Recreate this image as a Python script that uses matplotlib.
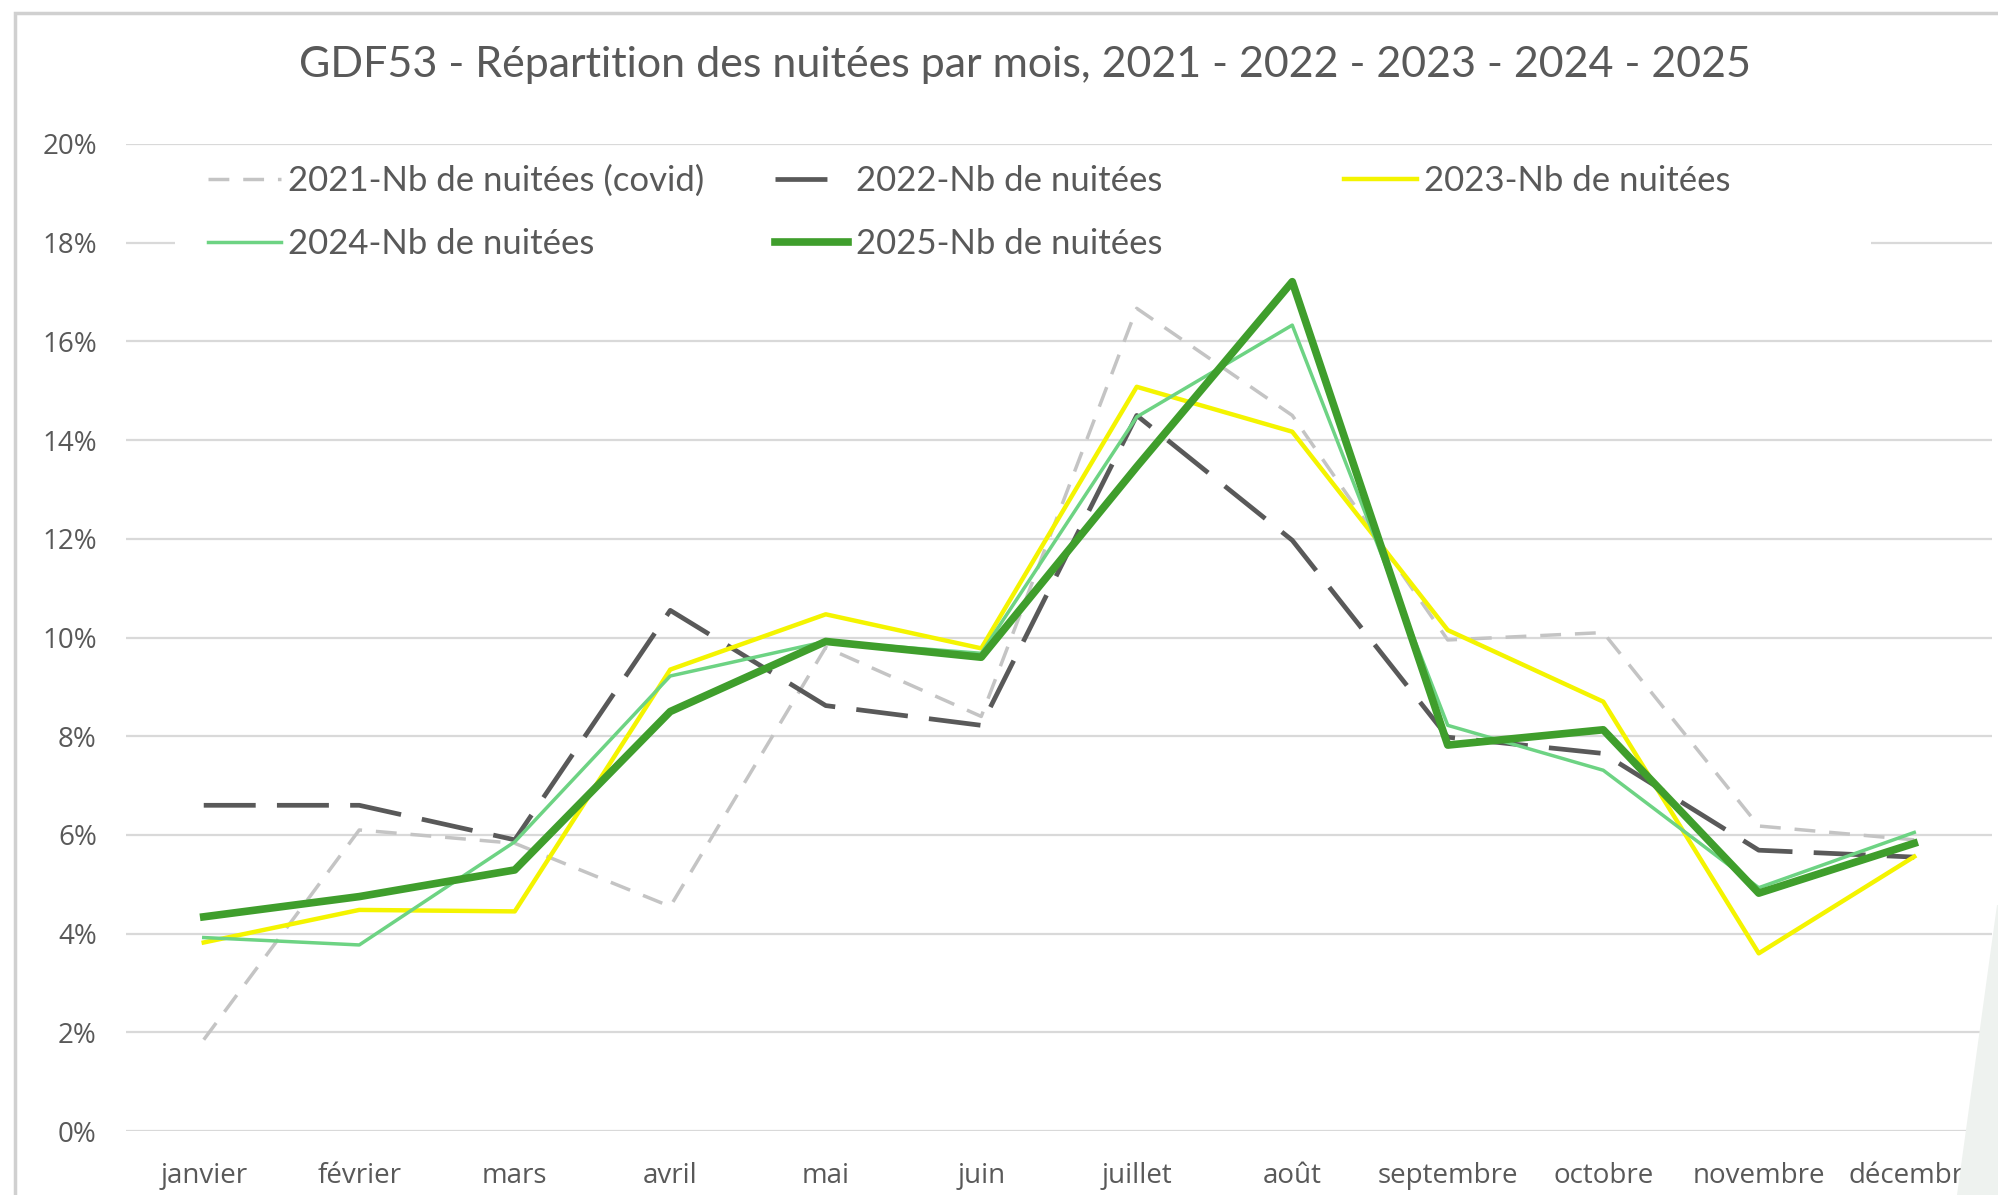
import matplotlib
matplotlib.use("Agg")
import matplotlib.pyplot as plt
from matplotlib.patches import Rectangle, Polygon
from matplotlib.ticker import PercentFormatter

plt.rcParams["font.family"] = ["Lato", "DejaVu Sans"]

months = ["janvier", "février", "mars", "avril", "mai", "juin", "juillet",
          "août", "septembre", "octobre", "novembre", "décembre"]

# share of nights per month, in %
n2021 = [1.85, 6.1, 5.83, 4.55, 9.8, 8.4, 16.67, 14.5, 9.95, 10.1, 6.18, 5.9]
n2022 = [6.6, 6.6, 5.9, 10.55, 8.62, 8.22, 14.5, 11.97, 7.98, 7.65, 5.69, 5.55]
n2023 = [3.82, 4.48, 4.45, 9.35, 10.47, 9.78, 15.08, 14.17, 10.15, 8.7, 3.6, 5.56]
n2024 = [3.92, 3.77, 5.86, 9.22, 9.92, 9.68, 14.47, 16.33, 8.22, 7.31, 4.93, 6.05]
n2025 = [4.34, 4.75, 5.29, 8.5, 9.92, 9.6, 13.46, 17.21, 7.82, 8.13, 4.82, 5.83]

labels = ["2021-Nb de nuitées (covid)", "2022-Nb de nuitées", "2023-Nb de nuitées",
          "2024-Nb de nuitées", "2025-Nb de nuitées"]

TXT = "#595959"
W, H = 1998, 1195

fig = plt.figure(figsize=(W / 100, H / 100), dpi=100)
ax = fig.add_axes([126 / W, 1 - 1131 / H, (1992 - 126) / W, (1131 - 144) / H])

x = range(len(months))
l21, = ax.plot(x, n2021, color="#c4c4c4", lw=2.5, ls=(0, (6, 4)), solid_capstyle="butt")
l22, = ax.plot(x, n2022, color="#595959", lw=3.4, ls=(0, (11, 4.5)))
l23, = ax.plot(x, n2023, color="#f4f400", lw=3.2)
l24, = ax.plot(x, n2024, color="#6dd383", lw=2.5)
l25, = ax.plot(x, n2025, color="#3f9e2c", lw=5.5)

ax.set_xlim(-0.5, 11.5)
ax.set_ylim(0, 20)
ax.set_yticks(range(0, 21, 2))
ax.yaxis.set_major_formatter(PercentFormatter(100, decimals=0))
ax.set_xticks(list(x))
ax.set_xticklabels(months)
ax.tick_params(length=0, colors=TXT, labelsize=20)
ax.tick_params(axis="y", pad=21)
ax.tick_params(axis="x", pad=22)
for lbl in ax.get_xticklabels() + ax.get_yticklabels():
    lbl.set_fontfamily(["Open Sans", "DejaVu Sans"])
for s in ax.spines.values():
    s.set_visible(False)
ax.set_axisbelow(True)
ax.grid(axis="y", color="#d9d9d9", lw=1.6)

# white block behind the legend (hides the 18% gridline like Excel)
ax.add_patch(Rectangle((0.026, 0.872), 0.909, 0.119, transform=ax.transAxes,
                       facecolor="white", edgecolor="none", zorder=1.5))

cols = [([l21, l24], [labels[0], labels[3]], 0.0439),
        ([l22, l25], [labels[1], labels[4]], 0.3478),
        ([l23], [labels[2]], 0.6527)]
legends = []
for handles, labs, xpos in cols:
    leg = ax.legend(handles, labs, loc="upper left", bbox_to_anchor=(xpos, 0.979),
                    frameon=False, fontsize=25, borderpad=0, borderaxespad=0,
                    handlelength=2.1, handletextpad=0.22, labelspacing=0.9,
                    labelcolor=TXT)
    leg.set_zorder(5)
    legends.append(leg)
ax.legend_ = None
for leg in legends:
    ax.add_artist(leg)

fig.text(0.513, 1 - 65 / H, "GDF53 - Répartition des nuitées par mois, 2021 - 2022 - 2023 - 2024 - 2025",
         ha="center", va="center", fontsize=31, color=TXT)

# chart border (left/top visible) and decorative panel bottom right
fig.patches.append(Rectangle((15 / W, -0.1), 1.2, 1 - 13 / H + 0.1, transform=fig.transFigure,
                             facecolor="none", edgecolor="#d0d0d0", lw=2.5, zorder=0))
fig.patches.append(Polygon([(1997 / W, 1 - 905 / H), (1957 / W, 0), (1, 0), (1, 1 - 905 / H)],
                           closed=True, transform=fig.transFigure,
                           facecolor="#eef2ef", edgecolor="none", zorder=10))

fig.savefig("out.png", dpi=100)
